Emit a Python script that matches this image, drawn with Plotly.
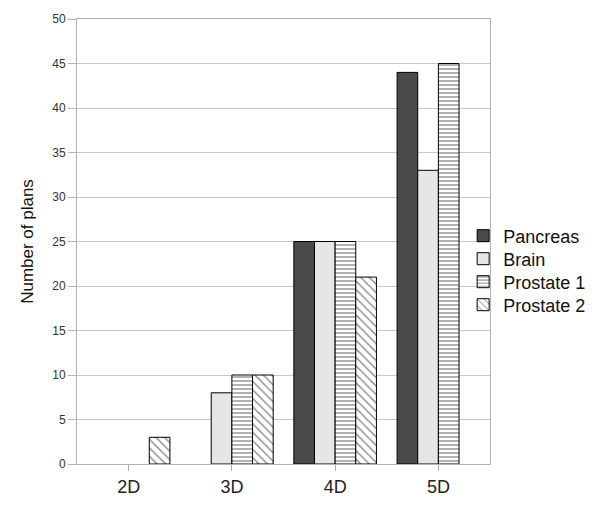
import plotly.graph_objects as go

categories = ["2D", "3D", "4D", "5D"]
pancreas = [0, 0, 25, 44]
brain = [0, 8, 25, 33]
prostate1 = [0, 10, 25, 45]
prostate2 = [3, 10, 21, 0]
y_ticks = list(range(0, 51, 5))


def nz(vals):
    # zero-height bars are not drawn in the reference
    return [v if v else None for v in vals]


fig = go.Figure()
line = dict(color="black", width=1)
fig.add_trace(go.Bar(name="Pancreas", x=categories, y=nz(pancreas), legend="legend",
                     marker=dict(color="#4a4a4a", line=line)))
fig.add_trace(go.Bar(name="Brain", x=categories, y=nz(brain), legend="legend2",
                     marker=dict(color="#e6e6e6", line=line)))
fig.add_trace(go.Bar(name="Prostate 1", x=categories, y=nz(prostate1), legend="legend3",
                     marker=dict(color="white", line=line,
                                 pattern=dict(shape="-", size=4, solidity=0.3,
                                              fgcolor="black", bgcolor="white"))))
fig.add_trace(go.Bar(name="Prostate 2", x=categories, y=nz(prostate2), legend="legend4",
                     marker=dict(color="white", line=line,
                                 pattern=dict(shape="\\", size=6, solidity=0.2,
                                              fgcolor="black", bgcolor="white"))))

plot_top, plot_h = 11, 445
legend_centers = [228, 251, 274, 297]  # figure px of each legend row


def leg(cy):
    return dict(x=0.935, xanchor="left", y=(plot_top + plot_h - cy) / plot_h,
                yanchor="middle", font=dict(size=18, color="#111"),
                bgcolor="rgba(0,0,0,0)", itemwidth=30)


fig.update_layout(
    width=602, height=509,
    margin=dict(l=69, r=120, t=plot_top, b=509 - plot_top - plot_h, autoexpand=False),
    paper_bgcolor="white", plot_bgcolor="white",
    font=dict(family="Liberation Sans, Arial, sans-serif", color="#222"),
    barmode="group", bargap=0.2, bargroupgap=0,
    showlegend=True,
    legend=leg(legend_centers[0]),
    legend2=leg(legend_centers[1]),
    legend3=leg(legend_centers[2]),
    legend4=leg(legend_centers[3]),
    xaxis=dict(showline=True, linecolor="#b3b3b3", mirror=True, automargin=False,
               ticks="outside", ticklen=6, tickcolor="#b3b3b3",
               tickfont=dict(size=18, color="#222"), showgrid=False),
    yaxis=dict(range=[0, 50], tickvals=y_ticks, showline=True, linecolor="#b3b3b3",
               mirror=True, ticks="outside", ticklen=8, tickcolor="#b3b3b3",
               gridcolor="#c8c8c8", tickfont=dict(size=12, color="#333"),
               zeroline=False, automargin=False,
               title=dict(text="Number of plans", font=dict(size=17, color="#111"), standoff=14)),
)

fig.write_html("out.html")
